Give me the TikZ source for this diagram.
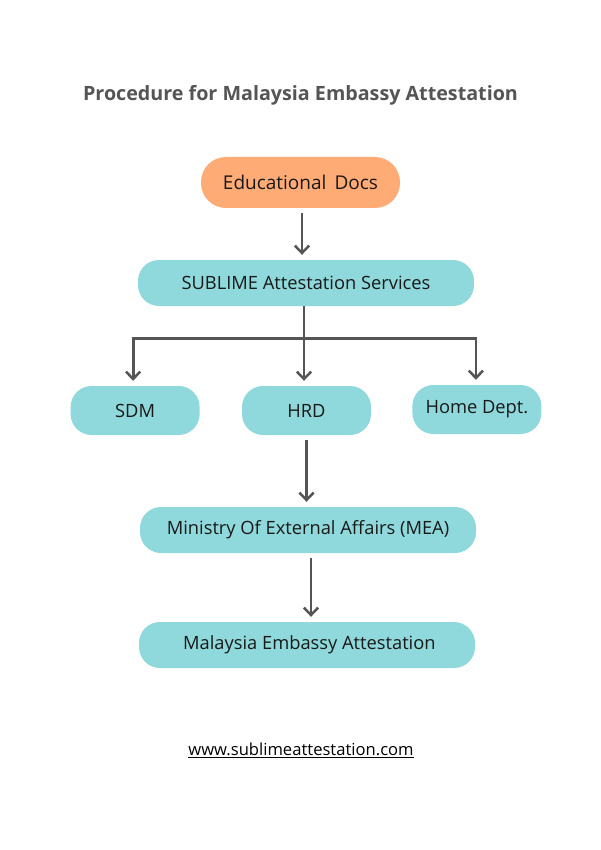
\documentclass[tikz,border=0pt]{standalone}
\usepackage{fontspec}
\setmainfont{Open Sans}
\usetikzlibrary{arrows.meta,positioning,calc}
\definecolor{tealbox}{HTML}{8FD8DB}
\definecolor{peachbox}{HTML}{FFAB76}
\definecolor{linegray}{HTML}{555555}
\definecolor{titlegray}{HTML}{555555}
\tikzset{
  step box/.style ={rounded corners=21pt,fill=tealbox,align=center,
                    font=\fontsize{18.3}{21}\selectfont,text=black!90,
                    minimum width=336pt,minimum height=46pt,inner sep=0pt},
  dept/.style     ={step box,minimum width=129pt,minimum height=49pt},
  start/.style    ={step box,fill=peachbox,rounded corners=25pt,
                    minimum width=199pt,minimum height=51pt,
                    font=\fontsize{19}{22}\selectfont},
  ar/.style       ={draw=linegray,line width=2.8pt,
                    -{Straight Barb[length=2.6mm,width=5mm,line width=2.5pt]},
                    shorten >=5pt,shorten <=5pt},
  ln/.style       ={draw=linegray,line width=2.8pt},
}
\begin{document}
\begin{tikzpicture}[x=1pt,y=-1pt]
\fill[white] (0,0) rectangle (600,850);
\useasboundingbox (0,0) rectangle (600,850);
\node[font=\fontsize{19.7}{23}\selectfont\bfseries,text=titlegray] (T) at (300.5,95)
  {Procedure for Malaysia Embassy Attestation};
\node[start] (EDU) at (300.5,182.5) {Educational\, Docs};
\node[step box] (SUB) at (306,283) {SUBLIME Attestation Services};
\node[dept] (HRD) at (306.5,410.5) {HRD};
\node[dept,left=42pt of HRD] (SDM) {SDM};
\node[dept,right=41pt of HRD,yshift=1pt] (HOME) {Home Dept.};
\node[step box] (MEA) at (308,530) {Ministry Of External Affairs (MEA)};
\node[step box] (MAL) at (307,645) {\ Malaysia Embassy Attestation};
\node[font=\fontsize{16.6}{19}\selectfont] (URL) at (301,750)
  {\underline{www.sublimeattestation.com}};
% branches under the service box
\coordinate (J) at ($(SUB.south)+(-2,32)$);
\draw[ln] (SUB.south -| J) -- (J);
\draw[ar,shorten <=0pt] (J) -| ([xshift=-2pt]SDM.north);
\draw[ar,shorten <=0pt] (J) -| ([xshift=-1pt]HOME.north);
\draw[ar,shorten <=0pt] (J) -- (J |- HRD.north);
\draw[ar] ([xshift=1.5pt]EDU.south) -- ([xshift=1.5pt]EDU.south |- SUB.north);
\draw[ar] (HRD.south) -- (HRD.south |- MEA.north);
\draw[ar] ([xshift=3pt]MEA.south) -- ([xshift=3pt]MEA.south |- MAL.north);
\end{tikzpicture}
\end{document}
